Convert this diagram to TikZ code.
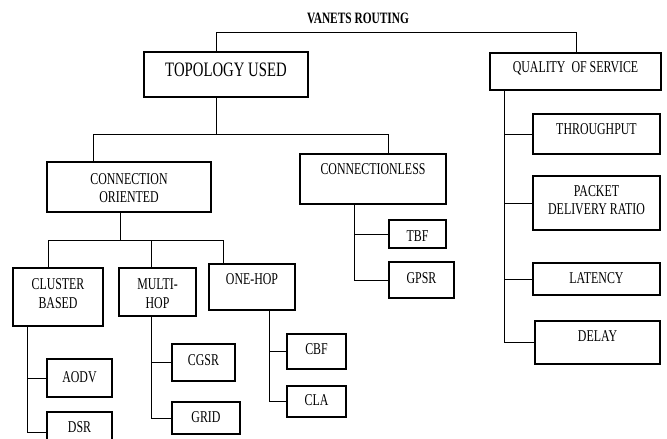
\documentclass[tikz,border=0pt]{standalone}
\usepackage{fontspec}
\setmainfont[FakeStretch=0.72]{Liberation Serif}
\usetikzlibrary{fit}
\tikzset{
  box/.style={draw, line width=1.1pt, inner sep=0pt},
  txt/.style={inner sep=0pt, align=center, font=\fontsize{16.5}{18.5}\selectfont},
  conn/.style={draw, line width=0.9pt},
}
\begin{document}
\begin{tikzpicture}[x=1pt, y=-1pt]
\clip (0,0) rectangle (667,439);
\fill[white] (0,0) rectangle (667,439);

% boxes
\node[box, fit={(144,52) (308,97)}] (topo) {};
\node[box, fit={(490,53) (661,90)}] (qos) {};
\node[box, fit={(47,162) (211,212)}] (connor) {};
\node[box, fit={(300,154) (446,204)}] (connless) {};
\node[box, fit={(13,268) (103,326)}] (cluster) {};
\node[box, fit={(119,268) (196,316)}] (multi) {};
\node[box, fit={(209,264) (295,310)}] (onehop) {};
\node[box, fit={(47,359) (112,397)}] (aodv) {};
\node[box, fit={(47,412) (112,452)}] (dsr) {};
\node[box, fit={(172,344) (235,381)}] (cgsr) {};
\node[box, fit={(172,402) (240,434)}] (grid) {};
\node[box, fit={(287,334) (346,369)}] (cbf) {};
\node[box, fit={(287,386) (346,417)}] (cla) {};
\node[box, fit={(389,220) (446,248)}] (tbf) {};
\node[box, fit={(389,262) (454,298)}] (gpsr) {};
\node[box, fit={(533,114) (660,154)}] (thr) {};
\node[box, fit={(533,176) (660,230)}] (pdr) {};
\node[box, fit={(533,263) (660,295)}] (lat) {};
\node[box, fit={(535,321) (660,364)}] (delay) {};

% texts
\node[txt, font=\bfseries\fontsize{15.8}{17}\selectfont] (title) at (358,18) {VANETS ROUTING};
\node[txt, font=\fontsize{20.5}{22}\selectfont] at (topo.center |- 0,70) {TOPOLOGY USED};
\node[txt] at (qos.center |- 0,68) {QUALITY\hspace{3pt} OF SERVICE};
\node[txt] at (connor.center |- 0,188) {CONNECTION\\ORIENTED};
\node[txt] at (connless.center |- 0,169) {CONNECTIONLESS};
\node[txt] at (cluster.center |- 0,293.5) {CLUSTER\\BASED};
\node[txt] at (multi.center |- 0,293.5) {MULTI-\\HOP};
\node[txt] at (onehop.center |- 0,279) {ONE-HOP};
\node[txt] at (aodv.center |- 0,377) {AODV};
\node[txt] at (dsr.center |- 0,427) {DSR};
\node[txt] at (cgsr.center |- 0,360) {CGSR};
\node[txt] at (grid.center |- 0,417) {GRID};
\node[txt] at (cbf.center |- 0,349) {CBF};
\node[txt] at (cla.center |- 0,400) {CLA};
\node[txt] at (tbf.center |- 0,236) {TBF};
\node[txt] at (gpsr.center |- 0,278) {GPSR};
\node[txt] at (thr.center |- 0,129) {THROUGHPUT};
\node[txt] at (pdr.center |- 0,200) {PACKET\\DELIVERY RATIO};
\node[txt] at (lat.center |- 0,278) {LATENCY};
\node[txt] at (delay.center |- 0,336) {DELAY};

% top bus
\coordinate (tA) at (216,32);
\coordinate (tB) at (576,32);
\draw[conn] (topo.north -| tA) -- (tA) -- (tB) -- (qos.north -| tB);

% topology bus
\coordinate (cA) at (93,134);
\coordinate (cB) at (388,134);
\draw[conn] (topo.south -| tA) -- (tA |- cA);
\draw[conn] (connor.north -| cA) -- (cA) -- (cB) -- (connless.north -| cB);

% connection oriented bus
\coordinate (oA) at (48,240);
\coordinate (oD) at (120,240);
\coordinate (oM) at (151,240);
\coordinate (oB) at (223,240);
\draw[conn] (connor.south -| oD) -- (oD);
\draw[conn] (cluster.north -| oA) -- (oA) -- (oB) -- (onehop.north -| oB);
\draw[conn] (oM) -- (multi.north -| oM);

% spines
\coordinate (sC) at (27,0);
\draw[conn] (cluster.south -| sC) |- (dsr.west);
\draw[conn] (sC |- aodv.west) -- (aodv.west);

\coordinate (sM) at (151,0);
\draw[conn] (multi.south -| sM) |- (grid.west);
\draw[conn] (sM |- cgsr.west) -- (cgsr.west);

\coordinate (sO) at (269,0);
\draw[conn] (onehop.south -| sO) |- (cla.west);
\draw[conn] (sO |- cbf.west) -- (cbf.west);

\coordinate (sL) at (354,0);
\draw[conn] (connless.south -| sL) |- (gpsr.west);
\draw[conn] (sL |- tbf.west) -- (tbf.west);

\coordinate (sQ) at (504,0);
\draw[conn] (qos.south -| sQ) |- (delay.west);
\draw[conn] (sQ |- thr.west) -- (thr.west);
\draw[conn] (sQ |- pdr.west) -- (pdr.west);
\draw[conn] (sQ |- lat.west) -- (lat.west);
\end{tikzpicture}
\end{document}
